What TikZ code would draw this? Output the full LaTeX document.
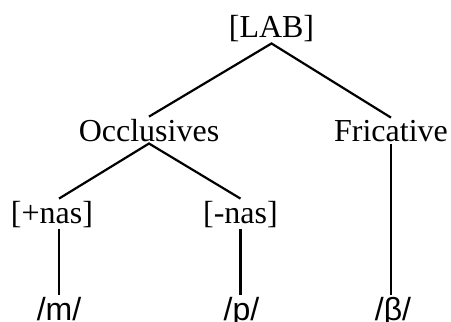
\documentclass[tikz,border=0pt]{standalone}
\usepackage{fontspec}
\setmainfont{Liberation Serif}
\newfontfamily\phonfont{Liberation Sans}
\begin{document}
\begin{tikzpicture}[x=1pt,y=-1pt,
  feat/.style={inner sep=2pt, anchor=base, font=\fontsize{32}{38}\selectfont},
  phon/.style={inner sep=2pt, anchor=base, font=\fontsize{32}{38}\selectfont\phonfont},
  branch/.style={line width=2.2pt, black}]
\useasboundingbox (0,0) rectangle (451,322);
\node[feat] (lab) at (271.5,37) {[LAB]};
\node[feat] (occ) at (149,141) {Occlusives};
\node[feat] (fric) at (391,141) {Fricative};
\node[feat] (plus) at (52,223) {[+nas]};
\node[feat] (minus) at (240.5,223) {[-nas]};
\node[phon] (m) at (59,320) {/m/};
\node[phon] (p) at (241.5,320) {/p/};
\node[phon] (beta) at (393,320) {/β/};
\draw[branch] (occ.north) -- (lab.south) -- (fric.north);
\draw[branch] (plus.north -| m.north) -- (occ.south) -- (minus.north);
\draw[branch] (plus.south -| m.north) -- (m.north);
\draw[branch] (minus.south) -- (minus.south |- p.north);
\draw[branch] (fric.south) -- (fric.south |- beta.north);
\end{tikzpicture}
\end{document}
